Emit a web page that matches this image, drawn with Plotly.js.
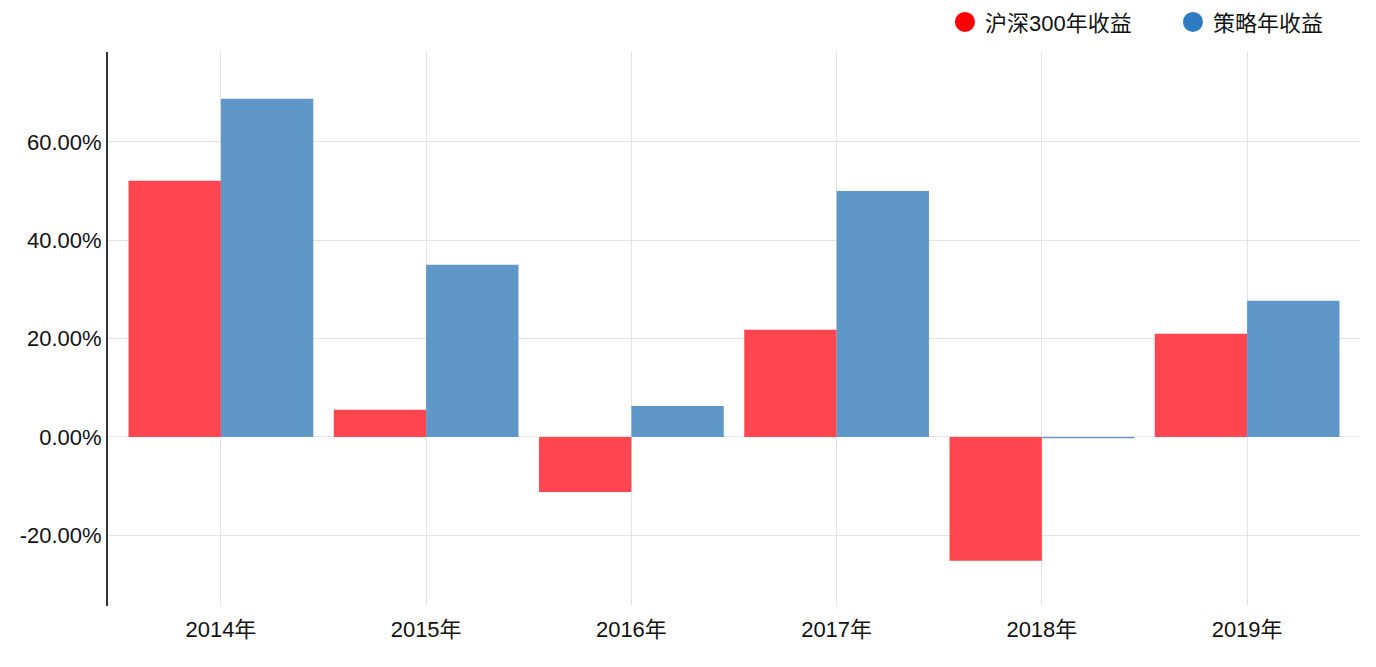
<!DOCTYPE html>
<html>
<head>
<meta charset="utf-8">
<script src="https://cdn.plot.ly/plotly-3.0.1.min.js"></script>
<style>html,body{margin:0;padding:0;background:#fff;}#chart{width:1376px;height:667px;}</style>
</head>
<body>
<div id="chart"></div>
<script>
const categories = ['2014年','2015年','2016年','2017年','2018年','2019年'];
const hs300Returns = [0.521, 0.055, -0.112, 0.218, -0.252, 0.210];
const strategyReturns = [0.688, 0.350, 0.063, 0.500, -0.003, 0.277];
const seriesNames = ['沪深300年收益', '策略年收益'];
const yTickVals = [-0.2, 0, 0.2, 0.4, 0.6];
const yTickText = ['-20.00%', '0.00%', '20.00%', '40.00%', '60.00%'];

const FONT = '"Liberation Sans", Arial, "Noto Sans CJK SC", sans-serif';

const data = [
  {type:'bar', x:categories, y:hs300Returns, name:seriesNames[0], marker:{color:'#ff4550'}, showlegend:false, legendgroup:'a'},
  {type:'bar', x:categories, y:strategyReturns, name:seriesNames[1], marker:{color:'#5f98c8'}, showlegend:false, legendgroup:'b'},
  {type:'scatter', mode:'markers', x:[null], y:[null], name:seriesNames[0], legendwidth:183, marker:{color:'#ff0000', size:16, symbol:'circle', line:{color:'#ff0000', width:4}}, legendgroup:'a', hoverinfo:'skip'},
  {type:'scatter', mode:'markers', x:[null], y:[null], name:seriesNames[1], marker:{color:'#2f7bc1', size:16, symbol:'circle', line:{color:'#2f7bc1', width:4}}, legendgroup:'b', hoverinfo:'skip'}
];

const layout = {
  width:1376, height:667,
  margin:{l:108, r:16, t:52, b:61, autoexpand:false},
  paper_bgcolor:'#fff', plot_bgcolor:'#fff',
  font:{family:FONT, size:22, color:'#111'},
  barmode:'group', bargap:0.1, bargroupgap:0,
  showlegend:true,
  legend:{orientation:'h', x:0.6685, xanchor:'left', y:1.016, yanchor:'bottom', font:{size:22, family:FONT, color:'#111'}, itemclick:false},
  xaxis:{type:'category', range:[-0.55, 5.55], showgrid:true, gridcolor:'#e3e3e3', gridwidth:1, showline:false, ticks:'', zeroline:false, tickfont:{size:22}, ticklabelstandoff:8, fixedrange:true},
  yaxis:{range:[-0.344, 0.783], tickmode:'array', tickvals:yTickVals, ticktext:yTickText, showgrid:true, gridcolor:'#e3e3e3', gridwidth:1, zeroline:true, zerolinecolor:'#e3e3e3', zerolinewidth:1, showline:true, linecolor:'#333', linewidth:2, ticks:'', tickfont:{size:22}, fixedrange:true}
};

Plotly.newPlot('chart', data, layout, {displayModeBar:false, staticPlot:true});
</script>
</body>
</html>
